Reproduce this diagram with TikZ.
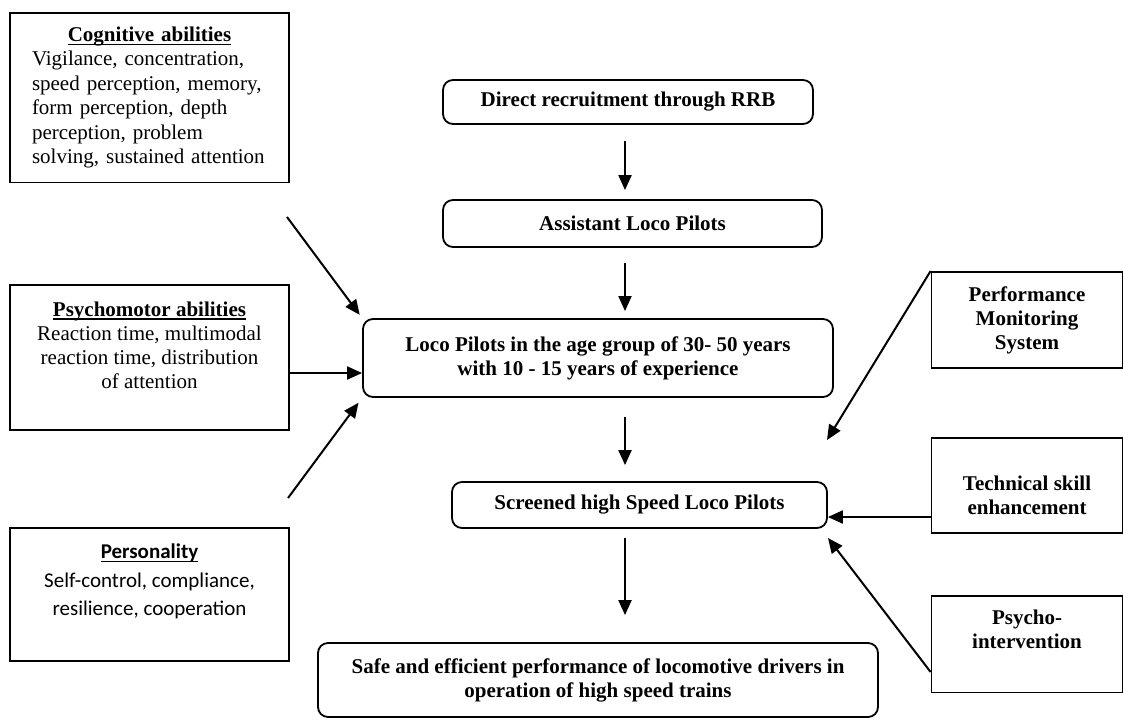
\documentclass[tikz,border=0pt]{standalone}
\usepackage{fontspec}
\setmainfont{Liberation Serif}
\newfontfamily\calibrifont{Carlito}
\usetikzlibrary{arrows.meta}

\newcommand\factorhead[1]{\setbox0\hbox{#1}\rlap{\rule[-3.5pt]{\wd0}{1.3pt}}\box0}

\tikzset{
  stage/.style={draw, line width=1.8pt, rounded corners=10pt, align=center,
    inner sep=0pt, font=\bfseries\fontsize{21}{24}\selectfont},
  factor/.style={draw, line width=1.8pt, anchor=north, inner xsep=0pt,
    inner ysep=14pt, minimum width=279pt},
  support/.style={factor, minimum width=191pt, align=center,
    font=\bfseries\fontsize{21}{24}\selectfont}
}

\begin{document}
\begin{tikzpicture}[x=1pt, y=-1pt]

        \useasboundingbox (0,0) rectangle (1123,721);

        % stages of selection
        \begin{scope}[every node/.style={stage}]
          \node[minimum width=370pt, minimum height=44pt] (direct)   at (628,102)   {Direct recruitment through RRB};
          \node[minimum width=379pt, minimum height=47pt] (assist)   at (632.5,223.5) {Assistant Loco Pilots};
          \node[minimum width=470pt, minimum height=78pt] (loco)     at (598,358)   {Loco Pilots in the age group of 30- 50 years\\with 10 - 15 years of experience};
          \node[minimum width=375pt, minimum height=46pt] (screened) at (639.5,505) {Screened high Speed Loco Pilots};
          \node[minimum width=560pt, minimum height=74pt] (safe)     at (598,680)   {Safe and efficient performance of locomotive drivers in\\operation of high speed trains};
        \end{scope}

        % abilities on the left
        \node[factor, align=left, text width=235pt,
          font=\fontsize{21}{24.5}\selectfont] (cog) at (149.5,12)
          {\makebox[\hsize]{\bfseries\factorhead{Cognitive abilities}}\\
           Vigilance, concentration,\\speed perception, memory,\\form perception, depth\\perception, problem\\solving, sustained attention};
        \node[factor, align=center, text height=90pt, text depth=27pt,
          font=\fontsize{21}{24.3}\selectfont] (psy) at (149.5,284)
          {{\bfseries\factorhead{Psychomotor abilities}}\\Reaction time, multimodal\\reaction time, distribution\\of attention};
        \node[factor, align=center, text height=74pt, text depth=31pt,
          font=\calibrifont\fontsize{21}{28.5}\selectfont] (pers) at (149.5,527)
          {{\bfseries\factorhead{Personality}}\\Self-control, compliance,\\resilience, cooperation};

        % support on the right
        \node[support, text height=64pt, text depth=4pt] (pms) at (1027,271) {Performance\\Monitoring\\System};
        \node[support, text height=63pt, text depth=4pt] (tech) at (1027,437) {Technical skill\\enhancement};
        \node[support, text depth=30pt] (psycho) at (1027,595) {Psycho-\\intervention};

        \coordinate (axis)       at (625,0);
        \coordinate (cogtail)    at (287,217);
        \coordinate (perstail)   at (288,498);
        \coordinate (psyin)      at (0,373);
        \coordinate (techin)     at (0,517);
        \coordinate (psychoout)  at (0,672);
        \coordinate (pmshead)    at (827,440);
        \coordinate (psychohead) at (828,538);

        \begin{scope}[every edge/.style={draw, line width=2pt,
            -{Triangle[length=15pt,width=13pt]}}]
          \path (direct.south -| axis)   edge[shorten <=16pt, shorten >=9pt]  (assist.north -| axis);
          \path (assist.south -| axis)   edge[shorten <=15pt, shorten >=7pt]  (loco.north -| axis);
          \path (loco.south -| axis)     edge[shorten <=19pt, shorten >=16pt] (screened.north -| axis);
          \path (screened.south -| axis) edge[shorten <=9pt, shorten >=27pt]  (safe.north -| axis);
          \path (cogtail)                edge[shorten >=4pt] (loco.north west);
          \path (psyin -| psy.east)      edge (psyin -| loco.west);
          \path (perstail)               edge[shorten >=6pt] (loco.south west);
          \path (pms.north west)         edge (pmshead);
          \path (techin -| tech.west)    edge (techin -| screened.east);
          \path (psychoout -| psycho.west) edge (psychohead);
        \end{scope}

      \end{tikzpicture}
\end{document}
